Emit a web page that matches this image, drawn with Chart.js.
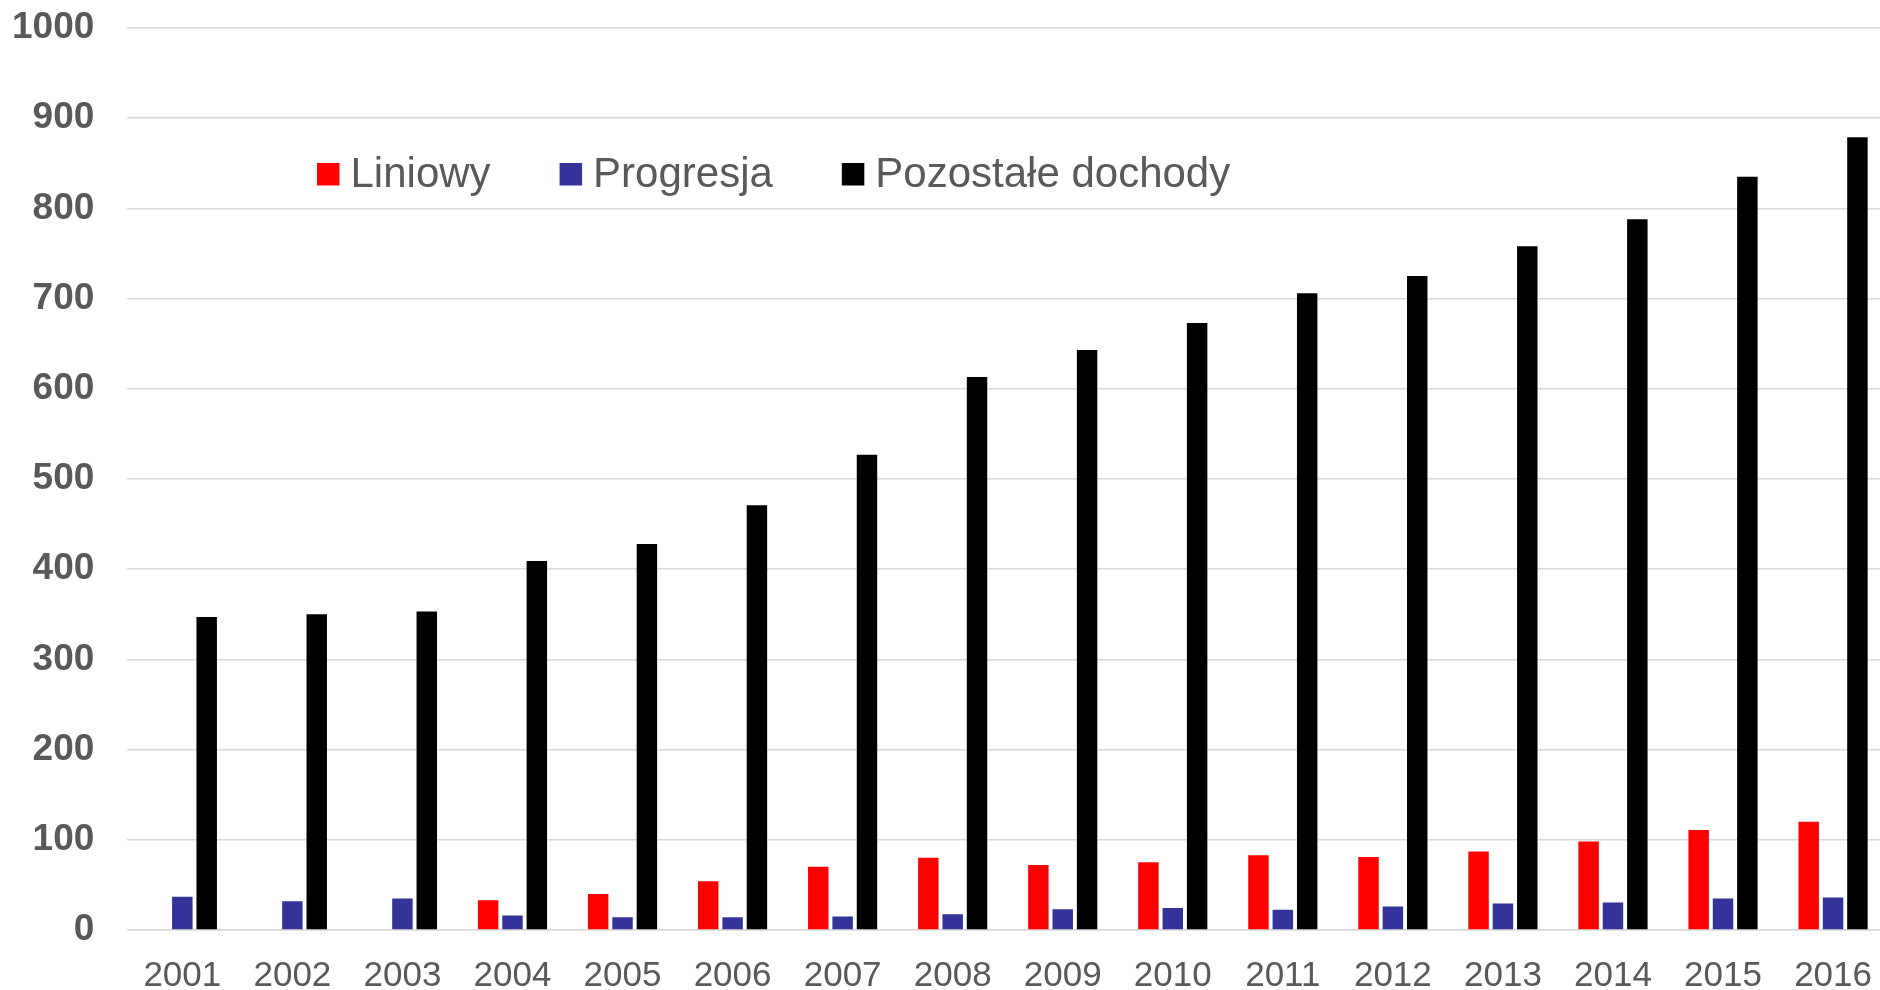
<!DOCTYPE html>
<html>
<head>
<meta charset="utf-8">
<script src="https://cdn.jsdelivr.net/npm/chart.js@4"></script>
<style>
    html, body { margin: 0; padding: 0; background: #fff; overflow: hidden; }
    #wrap { width: 1901px; height: 990px; position: relative; }
</style>
</head>
<body>
<div id="wrap"><canvas id="taxchart"></canvas></div>
<script>
var years = ['2001', '2002', '2003', '2004', '2005', '2006', '2007', '2008',
             '2009', '2010', '2011', '2012', '2013', '2014', '2015', '2016'];
var liniowy = [null, null, null, 33, 40, 54, 70, 80, 72, 75, 83, 81, 87, 98, 111, 120];
var progresja = [37, 32, 35, 16, 14, 14, 15, 17.5, 23, 24.5, 22.5, 26, 29.5, 30.5, 35, 36];
var pozostale = [347, 350, 353, 409, 428, 471, 527, 613, 643, 673, 706, 725, 758, 788, 835, 879];

var fontName = '"Liberation Sans", Arial, sans-serif';
var textColor = '#595959';
var gridColor = '#d9d9d9';

// legend sits inside the plot area in the original, so draw it by hand
var innerLegend = {
    id: 'innerLegend',
    afterDraw: function(chart) {
        var ctx = chart.ctx;
        var x = 317;
        var boxSize = 22.5;
        ctx.save();
        ctx.font = '42px ' + fontName;
        ctx.textBaseline = 'alphabetic';
        ctx.textAlign = 'left';
        chart.data.datasets.forEach(function(ds) {
            ctx.fillStyle = ds.backgroundColor;
            ctx.fillRect(x, 163, boxSize, boxSize);
            x += boxSize + 11;
            ctx.fillStyle = textColor;
            ctx.fillText(ds.label, x, 187);
            x += ctx.measureText(ds.label).width + 69;
        });
        ctx.restore();
    }
};

var ctx = document.getElementById('taxchart').getContext('2d');
var taxchart = new Chart(ctx, {
    type: 'bar',
    data: {
        labels: years,
        datasets: [{
            label: 'Liniowy',
            data: liniowy,
            backgroundColor: '#ff0000'
        }, {
            label: 'Progresja',
            data: progresja,
            backgroundColor: '#333399'
        }, {
            label: 'Pozostałe dochody',
            data: pozostale,
            backgroundColor: '#000000'
        }]
    },
    options: {
        responsive: true,
        maintainAspectRatio: false,
        animation: false,
        barPercentage: 0.84,
        categoryPercentage: 0.664,
        layout: {
            padding: { left: -21, top: 28, right: 0, bottom: -33 }
        },
        plugins: {
            legend: { display: false },
            tooltip: { enabled: false }
        },
        scales: {
            x: {
                grid: { display: false, drawTicks: false },
                border: { color: gridColor, width: 1.5 },
                ticks: {
                    color: textColor,
                    padding: 29,
                    maxRotation: 0,
                    font: { family: fontName, size: 35, lineHeight: 1 }
                }
            },
            y: {
                min: 0,
                max: 1000,
                grid: { color: gridColor, lineWidth: 1.5, drawTicks: false },
                border: { display: false },
                ticks: {
                    stepSize: 100,
                    color: textColor,
                    padding: 33,
                    font: { family: fontName, size: 37, weight: 'bold' },
                    callback: function(v) { return String(v); }
                },
                afterFit: function(scale) {
                    scale.paddingTop = 0;
                    scale.paddingBottom = 0;
                }
            }
        }
    },
    plugins: [innerLegend]
});
</script>
</body>
</html>
